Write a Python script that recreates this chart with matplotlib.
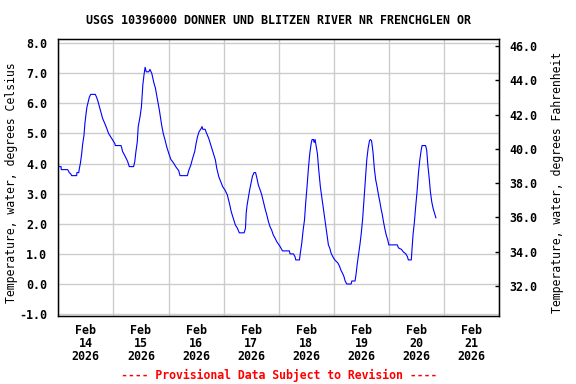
import matplotlib
matplotlib.use('Agg')
import matplotlib.pyplot as plt
import matplotlib.dates as mdates
import pandas as pd

# Water temperature, hours after Feb 14 2026 00:00 and degrees Celsius
hours = [0.0, 1.2, 1.3, 4.1, 4.8, 5.5, 5.8, 8.0, 8.1, 8.9, 9.2, 9.6, 10.2, 10.6,
         11.2, 11.6, 12.1, 12.5, 13.1, 13.5, 14.1, 16.1, 16.7, 17.3, 17.9, 18.5,
         19.3, 20.2, 21.1, 21.9, 22.8, 23.7, 24.6, 24.8, 27.3, 27.7, 28.0, 28.8,
         29.5, 30.2, 30.9, 32.8, 33.3, 33.8, 34.4, 34.8, 35.6, 36.2, 36.8, 37.3,
         37.8, 38.3, 39.4, 39.9, 40.7, 41.5, 42.3, 44.0, 45.0, 45.7, 46.5, 47.2,
         48.1, 49.0, 50.1, 51.3, 52.4, 53.0, 56.2, 56.8, 57.7, 58.5, 59.4, 60.0,
         60.6, 61.3, 62.0, 62.6, 62.9, 63.9, 64.6, 65.5, 66.4, 67.5, 68.4, 69.0,
         69.9, 70.7, 71.6, 72.6, 73.6, 74.5, 75.3, 76.2, 77.1, 78.0, 78.8, 80.9,
         81.5, 81.8, 82.2, 82.8, 83.3, 83.9, 84.5, 85.2, 85.9, 86.5, 87.1, 87.9,
         88.6, 89.3, 90.0, 90.8, 91.5, 92.2, 92.9, 93.6, 94.4, 95.1, 95.8, 96.6,
         97.6, 100.6, 100.9, 102.4, 103.1, 103.4, 105.0, 105.4, 106.0, 106.6,
         107.2, 107.7, 108.3, 108.9, 109.5, 110.1, 110.5, 111.1, 111.4, 111.8,
         112.2, 112.8, 113.4, 114.1, 114.7, 115.3, 115.9, 116.5, 117.0, 117.6,
         118.2, 118.8, 119.5, 120.2, 120.9, 121.7, 122.4, 123.1, 123.8, 124.4,
         124.9, 125.6, 127.5, 127.8, 129.2, 129.6, 130.2, 130.8, 131.4, 131.9,
         132.5, 133.1, 133.7, 134.3, 134.9, 135.5, 135.9, 136.4, 137.0, 137.6,
         138.2, 138.8, 139.4, 140.0, 140.5, 141.1, 141.7, 142.3, 142.9, 143.4,
         143.9, 147.6, 148.1, 149.4, 150.2, 151.3, 152.0, 152.4, 153.7, 153.9,
         154.5, 155.0, 155.6, 156.2, 156.8, 157.4, 158.0, 158.4, 159.9, 160.4,
         160.9, 161.5, 162.0, 162.6, 163.2, 163.8, 164.4]
temps = [3.9, 3.9, 3.8, 3.8, 3.7, 3.65, 3.6, 3.6, 3.7, 3.7, 3.85, 4.0, 4.34, 4.64,
         4.95, 5.34, 5.67, 5.89, 6.08, 6.2, 6.3, 6.3, 6.2, 6.06, 5.89, 5.72,
         5.5, 5.34, 5.17, 5.0, 4.89, 4.78, 4.67, 4.6, 4.6, 4.5, 4.4, 4.29,
         4.18, 4.07, 3.9, 3.9, 4.07, 4.4, 4.73, 5.23, 5.56, 5.89, 6.61, 6.94,
         7.2, 7.05, 7.05, 7.13, 7.0, 6.72, 6.5, 5.78, 5.28, 5.0, 4.78, 4.56,
         4.34, 4.14, 4.03, 3.88, 3.77, 3.6, 3.6, 3.77, 3.95, 4.18, 4.4, 4.67,
         4.89, 5.06, 5.14, 5.23, 5.14, 5.14, 5.0, 4.84, 4.62, 4.34, 4.12, 3.84,
         3.56, 3.4, 3.23, 3.12, 2.96, 2.68, 2.4, 2.18, 1.96, 1.85, 1.7, 1.7,
         1.85, 2.35, 2.62, 2.9, 3.12, 3.35, 3.57, 3.7, 3.7, 3.51, 3.29, 3.12,
         2.96, 2.73, 2.51, 2.29, 2.07, 1.9, 1.79, 1.63, 1.52, 1.41, 1.33, 1.24,
         1.1, 1.1, 1.0, 1.0, 0.9, 0.8, 0.8, 1.04, 1.35, 1.79,
         2.13, 2.68, 3.23, 3.84, 4.34, 4.67, 4.8, 4.8, 4.7, 4.8,
         4.62, 4.34, 3.79, 3.23, 2.9, 2.57, 2.24, 1.9, 1.63, 1.3,
         1.19, 1.02, 0.91, 0.82, 0.76, 0.7, 0.6, 0.45, 0.35, 0.24,
         0.1, 0.0, 0.0, 0.1, 0.1, 0.3, 0.69, 1.02, 1.35, 1.68,
         2.15, 2.81, 3.46, 4.12, 4.51, 4.76, 4.8, 4.76, 4.4, 3.84,
         3.46, 3.23, 2.96, 2.73, 2.51, 2.29, 2.02, 1.79, 1.59, 1.48,
         1.3, 1.3, 1.2, 1.15, 1.07, 1.0, 0.91, 0.8, 0.8, 1.04,
         1.68, 2.02, 2.57, 3.07, 3.68, 4.12, 4.45, 4.6, 4.6, 4.45,
         3.95, 3.51, 3.07, 2.73, 2.51, 2.35, 2.2]

title = 'USGS 10396000 DONNER UND BLITZEN RIVER NR FRENCHGLEN OR'
start = pd.Timestamp('2026-02-14')
times = start + pd.to_timedelta(hours, unit='h')

plt.rcParams['font.family'] = 'DejaVu Sans Mono'
plt.rcParams['font.weight'] = 'bold'

fig = plt.figure(figsize=(5.76, 3.84), dpi=100)
ax = fig.add_axes([0.1012, 0.1771, 0.7656, 0.7206])

ax.plot(times, temps, color='#0000ff', linewidth=0.8, zorder=3)

ax.set_xlim(start, start + pd.Timedelta(days=8))
ax.set_ylim(-1.063, 8.13)
ax.set_yticks([-1, 0, 1, 2, 3, 4, 5, 6, 7, 8])
ax.yaxis.set_major_formatter(matplotlib.ticker.FormatStrFormatter('%.1f'))

# day labels at noon, grid at midnight
ax.xaxis.set_major_locator(mdates.HourLocator(byhour=[12]))
ax.xaxis.set_major_formatter(mdates.DateFormatter('%b\n%d\n%Y'))
ax.xaxis.set_minor_locator(mdates.HourLocator(byhour=[0]))
ax.grid(True, which='minor', axis='x', color='#cccccc', linewidth=1.0)
ax.grid(True, which='major', axis='y', color='#cccccc', linewidth=1.0)
ax.tick_params(axis='x', which='both', length=0, pad=6, labelsize=8.4)
ax.tick_params(axis='y', length=0, pad=8, labelsize=8.4)
for lab in ax.get_xticklabels():
    lab.set_linespacing(1.0)
for s in ax.spines.values():
    s.set_linewidth(1.0)

ax.set_ylabel('Temperature, water, degrees Celsius', fontsize=8.3, va='center')
ax.yaxis.set_label_coords(-0.107, 0.483)

ax2 = ax.twinx()
ax2.set_ylim(30.25, 46.39)
ax2.set_yticks([32, 34, 36, 38, 40, 42, 44, 46])
ax2.yaxis.set_major_formatter(matplotlib.ticker.FormatStrFormatter('%.1f'))
ax2.tick_params(axis='y', direction='in', length=3, width=1, pad=7, labelsize=8.4)
ax2.set_ylabel('Temperature, water, degrees Fahrenheit', fontsize=8.3, va='center')
ax2.yaxis.set_label_coords(1.132, 0.483)

fig.text(0.484, 0.946, title, ha='center', va='center', fontsize=8.4)
fig.text(0.484, 0.021, '---- Provisional Data Subject to Revision ----',
         ha='center', va='center', fontsize=8.3, color='red')

fig.savefig('out.png', dpi=100)
